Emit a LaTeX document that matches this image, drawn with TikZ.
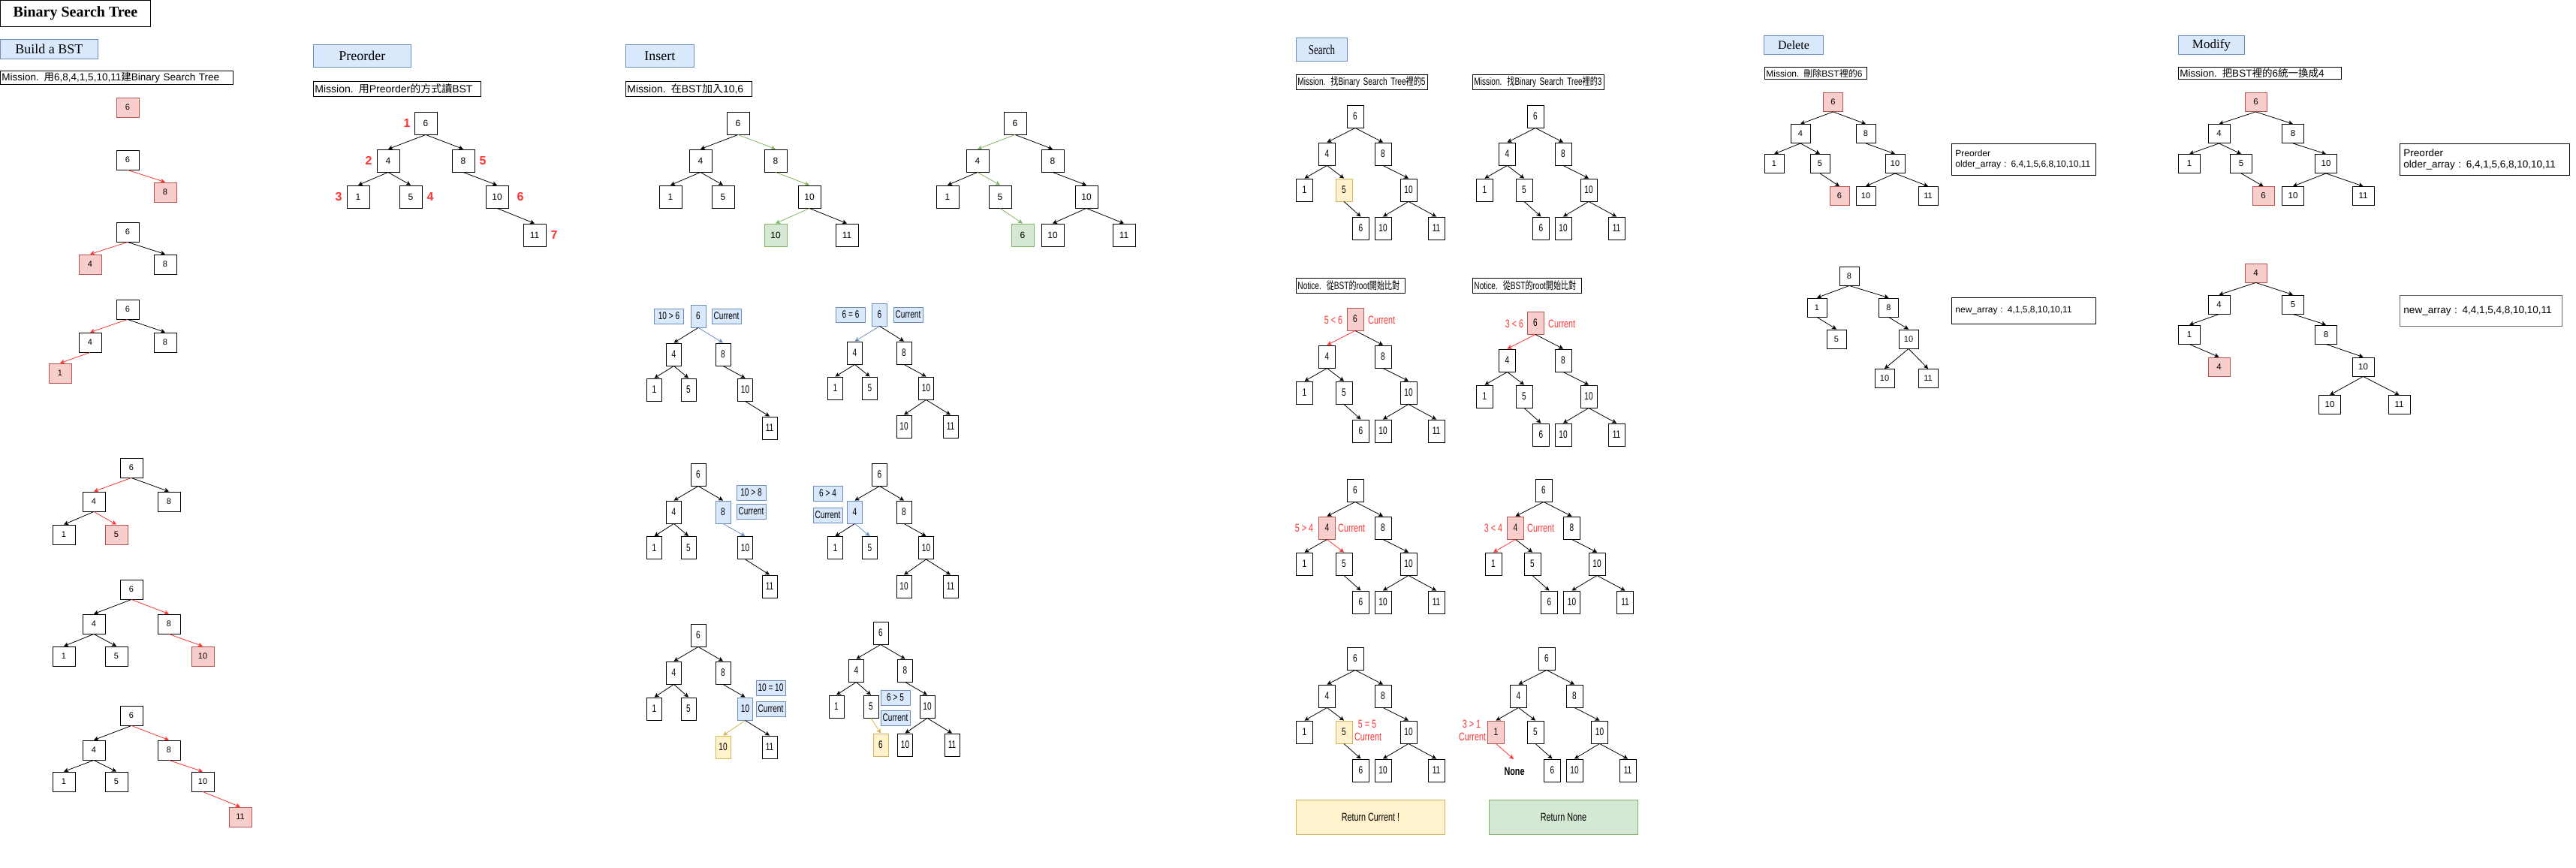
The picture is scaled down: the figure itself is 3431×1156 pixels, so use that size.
\documentclass[tikz,border=0pt]{standalone}
\usepackage{fontspec}
\setmainfont{Liberation Serif}
\setsansfont{Liberation Sans}
\newfontfamily\zhfont{Noto Sans CJK TC}
\newfontfamily\nsans[FakeStretch=0.72]{Liberation Sans}
\newfontfamily\nzhfont[FakeStretch=0.72]{Noto Sans CJK TC}
\newfontfamily\nserif[FakeStretch=0.72]{Liberation Serif}
\newcommand\zh[1]{{\zhfont #1}}
\newcommand\nzh[1]{{\nzhfont #1}}
\newcommand\fsz[1]{\fontsize{#1}{#1}\selectfont}
\usetikzlibrary{arrows.meta}
\definecolor{pinkF}{HTML}{F8CECC}
\definecolor{pinkD}{HTML}{B85450}
\definecolor{greenF}{HTML}{D5E8D4}
\definecolor{greenD}{HTML}{82B366}
\definecolor{yelF}{HTML}{FFF2CC}
\definecolor{yelD}{HTML}{D6B656}
\definecolor{blueF}{HTML}{DAE8FC}
\definecolor{blueD}{HTML}{6C8EBF}
\definecolor{hot}{HTML}{FF3333}
\tikzset{
  nd/.style={draw=black, line width=0.9pt, inner sep=0pt, fill=white},
  bA/.style={nd, minimum width=30pt, minimum height=26pt, font=\sffamily\fsz{11}},
  bP/.style={nd, minimum width=30pt, minimum height=30pt, font=\sffamily\fsz{12}},
  bN/.style={nd, minimum width=20pt, minimum height=30pt, font=\nsans\fsz{14}},
  bS/.style={nd, minimum width=22pt, minimum height=30pt, font=\nsans\fsz{14}},
  bD/.style={nd, minimum width=26pt, minimum height=25pt, font=\sffamily\fsz{11}},
  bM/.style={nd, minimum width=29pt, minimum height=25pt, font=\sffamily\fsz{11.5}},
  pk/.style={fill=pinkF, draw=pinkD},
  gr/.style={fill=greenF, draw=greenD},
  yl/.style={fill=yelF, draw=yelD},
  bl/.style={fill=blueF, draw=blueD},
  ed/.style={-{Stealth[length=6pt,width=6pt,inset=1.5pt]}, line width=0.8pt, draw=black},
  edR/.style={ed, draw=hot},
  edG/.style={ed, draw=greenD},
  edB/.style={ed, draw=blueD},
  edY/.style={ed, draw=yelD},
  lb/.style={nd, bl, minimum width=39pt, minimum height=20pt, font=\nsans\fsz{14}},
  rt/.style={text=hot, font=\nsans\fsz{15}, inner sep=0pt},
  ms/.style={draw, line width=0.9pt, anchor=north west, inner xsep=2pt, inner ysep=0pt, align=left},
  hd/.style={draw=blueD, fill=blueF, line width=0.9pt, anchor=north west, inner sep=0pt, font=\rmfamily\fsz{18}},
  ar/.style={draw, line width=0.9pt, anchor=north west, inner xsep=5pt, inner ysep=0pt, align=left},
  pn/.style={text=hot, font=\sffamily\bfseries\fsz{16}, inner sep=0pt},
}
\begin{document}
\begin{tikzpicture}[x=1pt,y=-1pt]
\useasboundingbox (0,0) rectangle (3431,1156);

% ---------- title and headers ----------
\node[draw, line width=0.9pt, anchor=north west, minimum width=200pt, minimum height=35pt, inner sep=0pt, font=\rmfamily\bfseries\fsz{20}] (title) at (0,0) {Binary Search Tree};
\node[hd, minimum width=130pt, minimum height=26pt] (hBuild) at (0,52) {Build a BST};
\node[hd, minimum width=130pt, minimum height=30pt] (hPre) at (417,59) {Preorder};
\node[hd, minimum width=91pt, minimum height=30pt] (hIns) at (833,59) {Insert};
\node[hd, minimum width=68pt, minimum height=31pt, font=\nserif\fsz{18}] (hSea) at (1726,50) {Search};
\node[hd, minimum width=79pt, minimum height=25pt, font=\rmfamily\fsz{16}] (hDel) at (2349,47) {Delete};
\node[hd, minimum width=88pt, minimum height=25pt, font=\rmfamily\fsz{17}] (hMod) at (2901,47) {Modify};

% ---------- mission / notice boxes ----------
\node[ms, text width=306pt, minimum height=18pt, font=\sffamily\fsz{13.5}] (mBuild) at (0,94) {Mission. \zh{用}6,8,4,1,5,10,11\zh{建}Binary Search Tree};
\node[ms, text width=219pt, minimum height=20pt, font=\sffamily\fsz{14}] (mPre) at (417,108) {Mission. \zh{用}Preorder\zh{的方式讀}BST};
\node[ms, text width=164pt, minimum height=20pt, font=\sffamily\fsz{14}] (mIns) at (833,108) {Mission. \zh{在}BST\zh{加入}10,6};
\node[ms, text width=171pt, minimum height=20pt, font=\nsans\fsz{14}] (mSea1) at (1726,99) {Mission. \nzh{找}Binary Search Tree\nzh{裡的}5};
\node[ms, text width=171pt, minimum height=20pt, font=\nsans\fsz{14}] (mSea2) at (1961,99) {Mission. \nzh{找}Binary Search Tree\nzh{裡的}3};
\node[ms, text width=141pt, minimum height=20pt, font=\nsans\fsz{14}] (nSea1) at (1726,370) {Notice. \nzh{從}BST\nzh{的}root\nzh{開始比對}};
\node[ms, text width=141pt, minimum height=20pt, font=\nsans\fsz{14}] (nSea2) at (1961,370) {Notice. \nzh{從}BST\nzh{的}root\nzh{開始比對}};
\node[ms, text width=132pt, minimum height=16pt, font=\sffamily\fsz{12}] (mDel) at (2350,89) {Mission. \zh{刪除}BST\zh{裡的}6};
\node[ms, text width=213pt, minimum height=16pt, font=\sffamily\fsz{13.5}] (mMod) at (2901,89) {Mission. \zh{把}BST\zh{裡的}6\zh{統一換成}4};

% ---------- Build a BST ----------
\node[bA, pk] (t1n6) at (170,143) {6};

\node[bA] (t2n6) at (170,213) {6};
\node[bA, pk] (t2n8) at (220,256) {8};
\draw[edR] (t2n6.south) -- (t2n8.north);

\node[bA] (t3n6) at (170,309) {6};
\node[bA, pk] (t3n4) at (120,352) {4};
\node[bA] (t3n8) at (220,352) {8};
\draw[edR] (t3n6.south) -- (t3n4.north);
\draw[ed] (t3n6.south) -- (t3n8.north);

\node[bA] (t4n6) at (170,412) {6};
\node[bA] (t4n4) at (120,456) {4};
\node[bA] (t4n8) at (220,456) {8};
\node[bA, pk] (t4n1) at (80,497) {1};
\draw[edR] (t4n6.south) -- (t4n4.north);
\draw[ed] (t4n6.south) -- (t4n8.north);
\draw[edR] (t4n4.south) -- (t4n1.north);

\node[bA] (t5n6) at (175,623) {6};
\node[bA] (t5n4) at (125,668) {4};
\node[bA] (t5n8) at (225,668) {8};
\node[bA] (t5n1) at (85,712) {1};
\node[bA, pk] (t5n5) at (155,712) {5};
\draw[edR] (t5n6.south) -- (t5n4.north);
\draw[ed] (t5n6.south) -- (t5n8.north);
\draw[ed] (t5n4.south) -- (t5n1.north);
\draw[edR] (t5n4.south) -- (t5n5.north);

\node[bA] (t6n6) at (175,785) {6};
\node[bA] (t6n4) at (125,831) {4};
\node[bA] (t6n8) at (225,831) {8};
\node[bA] (t6n1) at (85,874) {1};
\node[bA] (t6n5) at (155,874) {5};
\node[bA, pk] (t6n10) at (270,874) {10};
\draw[ed] (t6n6.south) -- (t6n4.north);
\draw[edR] (t6n6.south) -- (t6n8.north);
\draw[ed] (t6n4.south) -- (t6n1.north);
\draw[ed] (t6n4.south) -- (t6n5.north);
\draw[edR] (t6n8.south) -- (t6n10.north);

\node[bA] (t7n6) at (175,953) {6};
\node[bA] (t7n4) at (125,999) {4};
\node[bA] (t7n8) at (225,999) {8};
\node[bA] (t7n1) at (85,1041) {1};
\node[bA] (t7n5) at (155,1041) {5};
\node[bA] (t7n10) at (270,1041) {10};
\node[bA, pk] (t7n11) at (320,1088) {11};
\draw[ed] (t7n6.south) -- (t7n4.north);
\draw[edR] (t7n6.south) -- (t7n8.north);
\draw[ed] (t7n4.south) -- (t7n1.north);
\draw[ed] (t7n4.south) -- (t7n5.north);
\draw[edR] (t7n8.south) -- (t7n10.north);
\draw[edR] (t7n10.south) -- (t7n11.north);

% ---------- Preorder ----------
\node[bP] (pn6) at (567,164) {6};
\node[bP] (pn4) at (517,214) {4};
\node[bP] (pn8) at (617,214) {8};
\node[bP] (pn1) at (477,262) {1};
\node[bP] (pn5) at (547,262) {5};
\node[bP] (pn10) at (662,262) {10};
\node[bP] (pn11) at (712,313) {11};
\draw[ed] (pn6.south) -- (pn4.north);
\draw[ed] (pn6.south) -- (pn8.north);
\draw[ed] (pn4.south) -- (pn1.north);
\draw[ed] (pn4.south) -- (pn5.north);
\draw[ed] (pn8.south) -- (pn10.north);
\draw[ed] (pn10.south) -- (pn11.north);
\node[pn] (po1) at (542,164) {1};
\node[pn] (po2) at (491,214) {2};
\node[pn] (po3) at (451,262) {3};
\node[pn] (po4) at (573,262) {4};
\node[pn] (po5) at (643,214) {5};
\node[pn] (po6) at (693,262) {6};
\node[pn] (po7) at (738,313) {7};

% ---------- Insert: results ----------
\node[bP] (ian6) at (983,164) {6};
\node[bP] (ian4) at (933,214) {4};
\node[bP] (ian8) at (1033,214) {8};
\node[bP] (ian1) at (893,262) {1};
\node[bP] (ian5) at (963,262) {5};
\node[bP] (ian10) at (1078,262) {10};
\node[bP, gr] (ian10g) at (1033,313) {10};
\node[bP] (ian11) at (1128,313) {11};
\draw[ed] (ian6.south) -- (ian4.north);
\draw[edG] (ian6.south) -- (ian8.north);
\draw[ed] (ian4.south) -- (ian1.north);
\draw[ed] (ian4.south) -- (ian5.north);
\draw[edG] (ian8.south) -- (ian10.north);
\draw[edG] (ian10.south) -- (ian10g.north);
\draw[ed] (ian10.south) -- (ian11.north);

\node[bP] (ibn6) at (1352,164) {6};
\node[bP] (ibn4) at (1302,214) {4};
\node[bP] (ibn8) at (1402,214) {8};
\node[bP] (ibn1) at (1262,262) {1};
\node[bP] (ibn5) at (1332,262) {5};
\node[bP] (ibn10) at (1447,262) {10};
\node[bP, gr] (ibn6g) at (1362,313) {6};
\node[bP] (ibn10b) at (1402,313) {10};
\node[bP] (ibn11) at (1497,313) {11};
\draw[edG] (ibn6.south) -- (ibn4.north);
\draw[ed] (ibn6.south) -- (ibn8.north);
\draw[ed] (ibn4.south) -- (ibn1.north);
\draw[edG] (ibn4.south) -- (ibn5.north);
\draw[edG] (ibn5.south) -- (ibn6g.north);
\draw[ed] (ibn8.south) -- (ibn10.north);
\draw[ed] (ibn10.south) -- (ibn10b.north);
\draw[ed] (ibn10.south) -- (ibn11.north);

% ---------- Insert: steps for 10 ----------
\node[bN, bl] (icn6) at (930,421) {6};
\node[lb] (icq) at (891,421) {10 > 6};
\node[lb] (icc) at (967.5,421) {Current};
\node[bN] (icn4) at (897.5,472) {4};
\node[bN] (icn8) at (963,472) {8};
\node[bN] (icn1) at (871.5,519) {1};
\node[bN] (icn5) at (917,519) {5};
\node[bN] (icn10) at (992.5,519) {10};
\node[bN] (icn11) at (1025,570) {11};
\draw[ed] (icn6.south) -- (icn4.north);
\draw[edB] (icn6.south) -- (icn8.north);
\draw[ed] (icn4.south) -- (icn1.north);
\draw[ed] (icn4.south) -- (icn5.north);
\draw[ed] (icn8.south) -- (icn10.north);
\draw[ed] (icn10.south) -- (icn11.north);

\node[bN] (ien6) at (930,632) {6};
\node[bN] (ien4) at (897.5,682) {4};
\node[bN, bl] (ien8) at (963,682) {8};
\node[lb] (ieq) at (1000.5,656) {10 > 8};
\node[lb] (iec) at (1000.5,681) {Current};
\node[bN] (ien1) at (871.5,729.5) {1};
\node[bN] (ien5) at (917,729.5) {5};
\node[bN] (ien10) at (992.5,729.5) {10};
\node[bN] (ien11) at (1025,781) {11};
\draw[ed] (ien6.south) -- (ien4.north);
\draw[ed] (ien6.south) -- (ien8.north);
\draw[ed] (ien4.south) -- (ien1.north);
\draw[ed] (ien4.south) -- (ien5.north);
\draw[edB] (ien8.south) -- (ien10.north);
\draw[ed] (ien10.south) -- (ien11.north);

\node[bN] (ign6) at (930,846) {6};
\node[bN] (ign4) at (897.5,896) {4};
\node[bN] (ign8) at (963,896) {8};
\node[bN] (ign1) at (871.5,944) {1};
\node[bN] (ign5) at (917,944) {5};
\node[bN, bl] (ign10) at (992.5,944) {10};
\node[lb] (igq) at (1026.5,916) {10 = 10};
\node[lb] (igc) at (1026.5,944) {Current};
\node[bN, yl] (ign10y) at (963,995) {10};
\node[bN] (ign11) at (1025,995) {11};
\draw[ed] (ign6.south) -- (ign4.north);
\draw[ed] (ign6.south) -- (ign8.north);
\draw[ed] (ign4.south) -- (ign1.north);
\draw[ed] (ign4.south) -- (ign5.north);
\draw[ed] (ign8.south) -- (ign10.north);
\draw[edY] (ign10.south) -- (ign10y.north);
\draw[ed] (ign10.south) -- (ign11.north);

% ---------- Insert: steps for 6 ----------
\node[bN, bl] (idn6) at (1171.5,419) {6};
\node[lb] (idq) at (1133,419) {6 = 6};
\node[lb] (idc) at (1209.5,419) {Current};
\node[bN] (idn4) at (1138.5,470) {4};
\node[bN] (idn8) at (1204,470) {8};
\node[bN] (idn1) at (1112.5,517) {1};
\node[bN] (idn5) at (1158.5,517) {5};
\node[bN] (idn10) at (1233.5,517) {10};
\node[bN] (idn10b) at (1204,568) {10};
\node[bN] (idn11) at (1266,568) {11};
\draw[edB] (idn6.south) -- (idn4.north);
\draw[ed] (idn6.south) -- (idn8.north);
\draw[ed] (idn4.south) -- (idn1.north);
\draw[ed] (idn4.south) -- (idn5.north);
\draw[ed] (idn8.south) -- (idn10.north);
\draw[ed] (idn10.south) -- (idn10b.north);
\draw[ed] (idn10.south) -- (idn11.north);

\node[bN] (ifn6) at (1171.5,632) {6};
\node[bN, bl] (ifn4) at (1138.5,682) {4};
\node[lb] (ifq) at (1102.5,657) {6 > 4};
\node[lb] (ifc) at (1102.5,686) {Current};
\node[bN] (ifn8) at (1204,682) {8};
\node[bN] (ifn1) at (1112.5,729.5) {1};
\node[bN] (ifn5) at (1158.5,729.5) {5};
\node[bN] (ifn10) at (1233.5,729.5) {10};
\node[bN] (ifn10b) at (1204,781) {10};
\node[bN] (ifn11) at (1266,781) {11};
\draw[ed] (ifn6.south) -- (ifn4.north);
\draw[ed] (ifn6.south) -- (ifn8.north);
\draw[ed] (ifn4.south) -- (ifn1.north);
\draw[edB] (ifn4.south) -- (ifn5.north);
\draw[ed] (ifn8.south) -- (ifn10.north);
\draw[ed] (ifn10.south) -- (ifn10b.north);
\draw[ed] (ifn10.south) -- (ifn11.north);

\node[bN] (ihn6) at (1173,843) {6};
\node[bN] (ihn4) at (1140.5,893) {4};
\node[bN] (ihn8) at (1205.5,893) {8};
\node[bN] (ihn1) at (1114,941) {1};
\node[bN] (ihn5) at (1160,941) {5};
\node[lb] (ihq) at (1192.5,929) {6 > 5};
\node[lb] (ihc) at (1192.5,956) {Current};
\node[bN] (ihn10) at (1235,941) {10};
\node[bN, yl] (ihn6y) at (1173,992) {6};
\node[bN] (ihn10b) at (1205.5,992) {10};
\node[bN] (ihn11) at (1268,992) {11};
\draw[ed] (ihn6.south) -- (ihn4.north);
\draw[ed] (ihn6.south) -- (ihn8.north);
\draw[ed] (ihn4.south) -- (ihn1.north);
\draw[ed] (ihn4.south) -- (ihn5.north);
\draw[edY] (ihn5.south) -- (ihn6y.north);
\draw[ed] (ihn8.south) -- (ihn10.north);
\draw[ed] (ihn10.south) -- (ihn10b.north);
\draw[ed] (ihn10.south) -- (ihn11.north);

% ---------- Search ----------
% search for 5
\node[bS] (san6) at (1805,155) {6};
\node[bS] (san4) at (1767.5,205) {4};
\node[bS] (san8) at (1842,205) {8};
\node[bS] (san1) at (1737.5,253) {1};
\node[bS, yl] (san5) at (1790,253) {5};
\node[bS] (san10) at (1876,253) {10};
\node[bS] (san6b) at (1812.5,304) {6};
\node[bS] (san10b) at (1842,304) {10};
\node[bS] (san11) at (1913,304) {11};
\draw[ed] (san6.south) -- (san4.north);
\draw[ed] (san6.south) -- (san8.north);
\draw[ed] (san4.south) -- (san1.north);
\draw[ed] (san4.south) -- (san5.north);
\draw[ed] (san5.south) -- (san6b.north);
\draw[ed] (san8.south) -- (san10.north);
\draw[ed] (san10.south) -- (san10b.north);
\draw[ed] (san10.south) -- (san11.north);

\node[bS, pk] (scn6) at (1805,425) {6};
\node[rt] (scq) at (1776,426) {5 < 6};
\node[rt, anchor=west] (scc) at (1822,426) {Current};
\node[bS] (scn4) at (1767.5,475) {4};
\node[bS] (scn8) at (1842,475) {8};
\node[bS] (scn1) at (1737.5,523) {1};
\node[bS] (scn5) at (1790,523) {5};
\node[bS] (scn10) at (1876,523) {10};
\node[bS] (scn6b) at (1812.5,574) {6};
\node[bS] (scn10b) at (1842,574) {10};
\node[bS] (scn11) at (1913,574) {11};
\draw[edR] (scn6.south) -- (scn4.north);
\draw[ed] (scn6.south) -- (scn8.north);
\draw[ed] (scn4.south) -- (scn1.north);
\draw[ed] (scn4.south) -- (scn5.north);
\draw[ed] (scn5.south) -- (scn6b.north);
\draw[ed] (scn8.south) -- (scn10.north);
\draw[ed] (scn10.south) -- (scn10b.north);
\draw[ed] (scn10.south) -- (scn11.north);

\node[bS] (sen6) at (1805,653) {6};
\node[bS, pk] (sen4) at (1767.5,703) {4};
\node[rt] (seq) at (1737,703) {5 > 4};
\node[rt, anchor=west] (sec) at (1782,703) {Current};
\node[bS] (sen8) at (1842,703) {8};
\node[bS] (sen1) at (1737.5,751) {1};
\node[bS] (sen5) at (1790,751) {5};
\node[bS] (sen10) at (1876,751) {10};
\node[bS] (sen6b) at (1812.5,802) {6};
\node[bS] (sen10b) at (1842,802) {10};
\node[bS] (sen11) at (1913,802) {11};
\draw[ed] (sen6.south) -- (sen4.north);
\draw[ed] (sen6.south) -- (sen8.north);
\draw[ed] (sen4.south) -- (sen1.north);
\draw[edR] (sen4.south) -- (sen5.north);
\draw[ed] (sen5.south) -- (sen6b.north);
\draw[ed] (sen8.south) -- (sen10.north);
\draw[ed] (sen10.south) -- (sen10b.north);
\draw[ed] (sen10.south) -- (sen11.north);

\node[bS] (sgn6) at (1805,877) {6};
\node[bS] (sgn4) at (1767.5,927) {4};
\node[bS] (sgn8) at (1842,927) {8};
\node[bS] (sgn1) at (1737.5,975) {1};
\node[bS, yl] (sgn5) at (1790,975) {5};
\node[rt] (sgq) at (1821,964) {5 = 5};
\node[rt] (sgc) at (1822,981) {Current};
\node[bS] (sgn10) at (1876,975) {10};
\node[bS] (sgn6b) at (1812.5,1026) {6};
\node[bS] (sgn10b) at (1842,1026) {10};
\node[bS] (sgn11) at (1913,1026) {11};
\draw[ed] (sgn6.south) -- (sgn4.north);
\draw[ed] (sgn6.south) -- (sgn8.north);
\draw[ed] (sgn4.south) -- (sgn1.north);
\draw[ed] (sgn4.south) -- (sgn5.north);
\draw[ed] (sgn5.south) -- (sgn6b.north);
\draw[ed] (sgn8.south) -- (sgn10.north);
\draw[ed] (sgn10.south) -- (sgn10b.north);
\draw[ed] (sgn10.south) -- (sgn11.north);

\node[nd, yl, anchor=north west, minimum width=198pt, minimum height=46pt, font=\nsans\fsz{15}] (retc) at (1726,1065) {Return Current !};

% search for 3
\node[bS] (sbn6) at (2045,155) {6};
\node[bS] (sbn4) at (2007.5,205) {4};
\node[bS] (sbn8) at (2082,205) {8};
\node[bS] (sbn1) at (1977.5,253) {1};
\node[bS] (sbn5) at (2030,253) {5};
\node[bS] (sbn10) at (2116,253) {10};
\node[bS] (sbn6b) at (2052.5,304) {6};
\node[bS] (sbn10b) at (2082,304) {10};
\node[bS] (sbn11) at (2153,304) {11};
\draw[ed] (sbn6.south) -- (sbn4.north);
\draw[ed] (sbn6.south) -- (sbn8.north);
\draw[ed] (sbn4.south) -- (sbn1.north);
\draw[ed] (sbn4.south) -- (sbn5.north);
\draw[ed] (sbn5.south) -- (sbn6b.north);
\draw[ed] (sbn8.south) -- (sbn10.north);
\draw[ed] (sbn10.south) -- (sbn10b.north);
\draw[ed] (sbn10.south) -- (sbn11.north);

\node[bS, pk] (sdn6) at (2045,430) {6};
\node[rt] (sdq) at (2017,431) {3 < 6};
\node[rt, anchor=west] (sdc) at (2062,431) {Current};
\node[bS] (sdn4) at (2007.5,480) {4};
\node[bS] (sdn8) at (2082,480) {8};
\node[bS] (sdn1) at (1977.5,528) {1};
\node[bS] (sdn5) at (2030,528) {5};
\node[bS] (sdn10) at (2116,528) {10};
\node[bS] (sdn6b) at (2052.5,579) {6};
\node[bS] (sdn10b) at (2082,579) {10};
\node[bS] (sdn11) at (2153,579) {11};
\draw[edR] (sdn6.south) -- (sdn4.north);
\draw[ed] (sdn6.south) -- (sdn8.north);
\draw[ed] (sdn4.south) -- (sdn1.north);
\draw[ed] (sdn4.south) -- (sdn5.north);
\draw[ed] (sdn5.south) -- (sdn6b.north);
\draw[ed] (sdn8.south) -- (sdn10.north);
\draw[ed] (sdn10.south) -- (sdn10b.north);
\draw[ed] (sdn10.south) -- (sdn11.north);

\node[bS] (sfn6) at (2056,653) {6};
\node[bS, pk] (sfn4) at (2018.5,703) {4};
\node[rt] (sfq) at (1989,703) {3 < 4};
\node[rt, anchor=west] (sfc) at (2034,703) {Current};
\node[bS] (sfn8) at (2093.5,703) {8};
\node[bS] (sfn1) at (1989,751) {1};
\node[bS] (sfn5) at (2041,751) {5};
\node[bS] (sfn10) at (2127,751) {10};
\node[bS] (sfn6b) at (2063.5,802) {6};
\node[bS] (sfn10b) at (2093.5,802) {10};
\node[bS] (sfn11) at (2164.5,802) {11};
\draw[ed] (sfn6.south) -- (sfn4.north);
\draw[ed] (sfn6.south) -- (sfn8.north);
\draw[edR] (sfn4.south) -- (sfn1.north);
\draw[ed] (sfn4.south) -- (sfn5.north);
\draw[ed] (sfn5.south) -- (sfn6b.north);
\draw[ed] (sfn8.south) -- (sfn10.north);
\draw[ed] (sfn10.south) -- (sfn10b.north);
\draw[ed] (sfn10.south) -- (sfn11.north);

\node[bS] (shn6) at (2060,877) {6};
\node[bS] (shn4) at (2022.5,927) {4};
\node[bS] (shn8) at (2097,927) {8};
\node[bS, pk] (shn1) at (1992.5,975) {1};
\node[rt] (shq) at (1960,964) {3 > 1};
\node[rt] (shc) at (1961,981) {Current};
\node[bS] (shn5) at (2045,975) {5};
\node[bS] (shn10) at (2130.5,975) {10};
\node[bS] (shn6b) at (2067.5,1026) {6};
\node[bS] (shn10b) at (2097,1026) {10};
\node[bS] (shn11) at (2168,1026) {11};
\coordinate (shnil) at (2016,1011);
\node[font=\nsans\bfseries\fsz{15}, inner sep=0pt] (shnone) at (2017,1027) {None};
\draw[ed] (shn6.south) -- (shn4.north);
\draw[ed] (shn6.south) -- (shn8.north);
\draw[ed] (shn4.south) -- (shn1.north);
\draw[ed] (shn4.south) -- (shn5.north);
\draw[edR] (shn1.south) -- (shnil);
\draw[ed] (shn5.south) -- (shn6b.north);
\draw[ed] (shn8.south) -- (shn10.north);
\draw[ed] (shn10.south) -- (shn10b.north);
\draw[ed] (shn10.south) -- (shn11.north);

\node[nd, gr, anchor=north west, minimum width=198pt, minimum height=46pt, font=\nsans\fsz{15}] (retn) at (1983,1065) {Return None};

% ---------- Delete ----------
\node[bD, pk] (dan6) at (2441.5,136) {6};
\node[bD] (dan4) at (2398,178) {4};
\node[bD] (dan8) at (2485,178) {8};
\node[bD] (dan1) at (2363,218) {1};
\node[bD] (dan5) at (2424,218) {5};
\node[bD] (dan10) at (2524,218) {10};
\node[bD, pk] (dan6b) at (2450,261) {6};
\node[bD] (dan10b) at (2485,261) {10};
\node[bD] (dan11) at (2568,261) {11};
\draw[ed] (dan6.south) -- (dan4.north);
\draw[ed] (dan6.south) -- (dan8.north);
\draw[ed] (dan4.south) -- (dan1.north);
\draw[ed] (dan4.south) -- (dan5.north);
\draw[ed] (dan5.south) -- (dan6b.north);
\draw[ed] (dan8.south) -- (dan10.north);
\draw[ed] (dan10.south) -- (dan10b.north);
\draw[ed] (dan10.south) -- (dan11.north);

\node[bD] (dbn8) at (2463,367.5) {8};
\node[bD] (dbn1) at (2420,409.5) {1};
\node[bD] (dbn8b) at (2515.5,409.5) {8};
\node[bD] (dbn5) at (2446,451.5) {5};
\node[bD] (dbn10) at (2542,451.5) {10};
\node[bD] (dbn10b) at (2510,504) {10};
\node[bD] (dbn11) at (2568,504) {11};
\draw[ed] (dbn8.south) -- (dbn1.north);
\draw[ed] (dbn8.south) -- (dbn8b.north);
\draw[ed] (dbn1.south) -- (dbn5.north);
\draw[ed] (dbn8b.south) -- (dbn10.north);
\draw[ed] (dbn10.south) -- (dbn10b.north);
\draw[ed] (dbn10.south) -- (dbn11.north);

\node[ar, text width=182pt, minimum height=42pt, font=\sffamily\fontsize{12}{14}\selectfont] (dold) at (2599,191) {Preorder\\older\_array : 6,4,1,5,6,8,10,10,11};
\node[ar, text width=182pt, minimum height=35pt, font=\sffamily\fsz{12}] (dnew) at (2599,396) {new\_array : 4,1,5,8,10,10,11};

% ---------- Modify ----------
\node[bM, pk] (man6) at (3004.5,136) {6};
\node[bM] (man4) at (2955.5,178) {4};
\node[bM] (man8) at (3054,178) {8};
\node[bM] (man1) at (2916,218) {1};
\node[bM] (man5) at (2985,218) {5};
\node[bM] (man10) at (3098,218) {10};
\node[bM, pk] (man6b) at (3014.5,261) {6};
\node[bM] (man10b) at (3054,261) {10};
\node[bM] (man11) at (3147.5,261) {11};
\draw[ed] (man6.south) -- (man4.north);
\draw[ed] (man6.south) -- (man8.north);
\draw[ed] (man4.south) -- (man1.north);
\draw[ed] (man4.south) -- (man5.north);
\draw[ed] (man5.south) -- (man6b.north);
\draw[ed] (man8.south) -- (man10.north);
\draw[ed] (man10.south) -- (man10b.north);
\draw[ed] (man10.south) -- (man11.north);

\node[bM, pk] (mbn4) at (3004.5,363.5) {4};
\node[bM] (mbn4b) at (2955.5,405.5) {4};
\node[bM] (mbn5) at (3054,405.5) {5};
\node[bM] (mbn1) at (2916,445.5) {1};
\node[bM] (mbn8) at (3098,445.5) {8};
\node[bM, pk] (mbn4c) at (2955.5,488.5) {4};
\node[bM] (mbn10) at (3147.5,488.5) {10};
\node[bM] (mbn10b) at (3103,539) {10};
\node[bM] (mbn11) at (3195.5,539) {11};
\draw[ed] (mbn4.south) -- (mbn4b.north);
\draw[ed] (mbn4.south) -- (mbn5.north);
\draw[ed] (mbn4b.south) -- (mbn1.north);
\draw[ed] (mbn1.south) -- (mbn4c.north);
\draw[ed] (mbn5.south) -- (mbn8.north);
\draw[ed] (mbn8.south) -- (mbn10.north);
\draw[ed] (mbn10.south) -- (mbn10b.north);
\draw[ed] (mbn10.south) -- (mbn11.north);

\node[ar, text width=216pt, minimum height=42pt, font=\sffamily\fontsize{13.5}{14.5}\selectfont] (mold) at (3196,191) {Preorder\\older\_array : 6,4,1,5,6,8,10,10,11};
\node[ar, draw=black!60, text width=206pt, minimum height=41pt, font=\sffamily\fsz{13.5}] (mnew) at (3196,393) {new\_array : 4,4,1,5,4,8,10,10,11};
\end{tikzpicture}
\end{document}
